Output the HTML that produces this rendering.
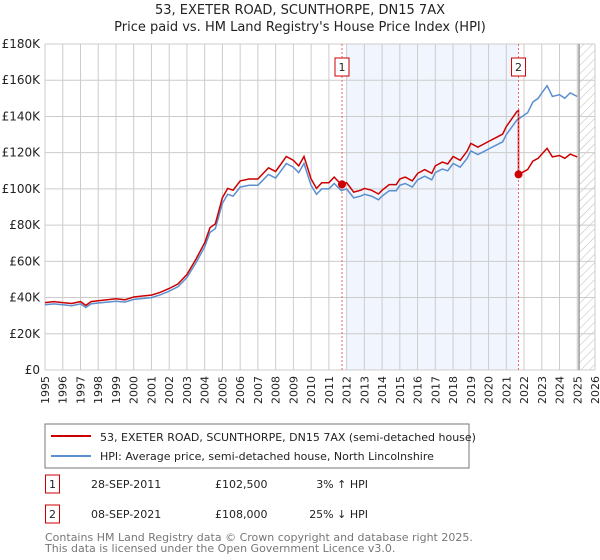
<!DOCTYPE html>
<html><head><meta charset="utf-8"><style>
body{margin:0;background:#fff;font-family:"Liberation Sans","DejaVu Sans",sans-serif;}
#wrap{position:relative;width:600px;height:560px;overflow:hidden;}
</style></head><body>
<div id="wrap">
<svg id="svg" width="600" height="560" xmlns="http://www.w3.org/2000/svg" font-family="DejaVu Sans, Liberation Sans, sans-serif">
<text x="300" y="14" text-anchor="middle" font-size="13" fill="#222">53, EXETER ROAD, SCUNTHORPE, DN15 7AX</text>
<text x="300" y="31" text-anchor="middle" font-size="13" fill="#222">Price paid vs. HM Land Registry's House Price Index (HPI)</text>
<defs><pattern id="hatch" width="6" height="6" patternUnits="userSpaceOnUse" patternTransform="rotate(45)"><line x1="0" y1="0" x2="0" y2="6" stroke="#bbb" stroke-width="1"/></pattern></defs>
<g id="plot"></g>
<rect x="45" y="424" width="424" height="44" fill="#fff" stroke="#777"/>
<line x1="51" y1="436" x2="91" y2="436" stroke="#cc0000" stroke-width="2"/>
<text x="100" y="441" font-size="11" fill="#222">53, EXETER ROAD, SCUNTHORPE, DN15 7AX (semi-detached house)</text>
<line x1="51" y1="456" x2="91" y2="456" stroke="#5b8fd0" stroke-width="2"/>
<text x="100" y="460" font-size="11" fill="#222">HPI: Average price, semi-detached house, North Lincolnshire</text>
<g font-size="11" fill="#222">
<rect x="45.5" y="475" width="14" height="18" fill="#fff" stroke="#cc0000"/>
<text x="52.5" y="488" text-anchor="middle">1</text>
<text x="91" y="488">28-SEP-2011</text>
<text x="215" y="488">£102,500</text>
<text x="368" y="488" text-anchor="end">3% ↑ HPI</text>
<rect x="45.5" y="505" width="14" height="18" fill="#fff" stroke="#cc0000"/>
<text x="52.5" y="518" text-anchor="middle">2</text>
<text x="91" y="518">08-SEP-2021</text>
<text x="215" y="518">£108,000</text>
<text x="368" y="518" text-anchor="end">25% ↓ HPI</text>
</g>
<text x="45" y="541" font-size="11" fill="#777">Contains HM Land Registry data © Crown copyright and database right 2025.</text>
<text x="45" y="552" font-size="11" fill="#777">This data is licensed under the Open Government Licence v3.0.</text>
</svg>
</div>
<script>
const hpiYears=[1995,1995.5,1996,1996.5,1997,1997.3,1997.6,1998,1998.5,1999,1999.5,2000,2000.5,2001,2001.5,2002,2002.5,2003,2003.5,2004,2004.3,2004.6,2005,2005.3,2005.6,2006,2006.5,2007,2007.3,2007.6,2008,2008.3,2008.6,2009,2009.3,2009.6,2010,2010.3,2010.6,2011,2011.3,2011.7,2012,2012.4,2012.8,2013,2013.4,2013.8,2014,2014.4,2014.8,2015,2015.3,2015.7,2016,2016.4,2016.8,2017,2017.4,2017.7,2018,2018.4,2018.8,2019,2019.4,2019.8,2020,2020.4,2020.8,2021,2021.3,2021.6,2021.9,2022.2,2022.5,2022.8,2023,2023.3,2023.6,2024,2024.3,2024.6,2025];
const hpiValues=[36,36.5,36,35.5,36.5,34.5,36.5,37,37.5,38,37.5,39,39.5,40,41.5,43.5,46,51,59,68,76,78,92,97,96,101,102,102,105,108,106,110,114,112,109,114,102,97,100,100,103,99,100,95,96,97,96,94,96,99,99,102,103,101,105,107,105,109,111,110,114,112,117,121,119,121,122,124,126,130,134,138,140,142,148,150,153,157,151,152,150,153,151,158];
const sales=[{year:2011.74,price:102.5},{year:2021.69,price:108}];
const yTicks=[0,20,40,60,80,100,120,140,160,180];
const yTickLabels=["£0","£20K","£40K","£60K","£80K","£100K","£120K","£140K","£160K","£180K"];
const xTicks=[];for(let y=1995;y<=2026;y++)xTicks.push(y);

const X0=45,X1=595,Y0=370,Y1=44;
const xs=v=>X0+(v-1995)/(2026-1995)*(X1-X0);
const ys=v=>Y0-v/180*(Y0-Y1);
const NS="http://www.w3.org/2000/svg";
const g=document.getElementById('plot');
function mk(t,a){const e=document.createElementNS(NS,t);for(const k in a)e.setAttribute(k,a[k]);g.appendChild(e);return e;}
function hpiAt(y){for(let i=0;i<hpiYears.length-1;i++){if(y<=hpiYears[i+1]){const f=(y-hpiYears[i])/(hpiYears[i+1]-hpiYears[i]);return hpiValues[i]+f*(hpiValues[i+1]-hpiValues[i]);}}return hpiValues[hpiValues.length-1];}

let e=mk('rect',{x:xs(2012),y:Y1,width:xs(2021.69)-xs(2012),height:Y0-Y1,fill:'#eef3fc',opacity:0.8});


e=mk('rect',{x:xs(2025.1),y:Y1,width:X1-xs(2025.1),height:Y0-Y1,fill:'url(#hatch)'});


xTicks.forEach(t=>{
  let l=mk('line',{x1:xs(t),x2:xs(t),y1:Y1,y2:Y0,stroke:'#ccc','stroke-width':1});
  
  
  let tx=mk('text',{x:0,y:0,'font-size':11,fill:'#222','text-anchor':'end',transform:`translate(${xs(t)+4},${Y0+6}) rotate(-90)`});
  tx.textContent=t;
  
  
});
yTicks.forEach((t,i)=>{
  let l=mk('line',{x1:X0,x2:X1,y1:ys(t),y2:ys(t),stroke:'#ccc','stroke-width':1});
  
  
  let tx=mk('text',{x:X0-5,y:ys(t)+4,'font-size':12,fill:'#222','text-anchor':'end'});
  tx.textContent=yTickLabels[i];
  
  
});
e=mk('line',{x1:xs(2025.1),x2:xs(2025.1),y1:Y1,y2:Y0,stroke:'#999','stroke-width':1.5});


let d=hpiYears.map((y,i)=>(i?'L':'M')+xs(y).toFixed(1)+','+ys(hpiValues[i]).toFixed(1)).join(' ');
e=mk('path',{d:d,fill:'none',stroke:'#5b8fd0','stroke-width':1.5});


const r1=sales[0].price/hpiAt(sales[0].year), r2=sales[1].price/hpiAt(sales[1].year);
let pts=[];
hpiYears.forEach((y,i)=>{if(y<sales[1].year)pts.push([y,hpiValues[i]*r1]);});
pts.push([sales[1].year,hpiAt(sales[1].year)*r1]);
pts.push([sales[1].year,sales[1].price]);
hpiYears.forEach((y,i)=>{if(y>sales[1].year)pts.push([y,hpiValues[i]*r2]);});
d=pts.map((p,i)=>(i?'L':'M')+xs(p[0]).toFixed(1)+','+ys(p[1]).toFixed(1)).join(' ');
e=mk('path',{d:d,fill:'none',stroke:'#cc0000','stroke-width':1.5});


sales.forEach((s,i)=>{
  let l=mk('line',{x1:xs(s.year),x2:xs(s.year),y1:Y1,y2:Y0,stroke:'#e66','stroke-width':1,'stroke-dasharray':'2,2'});
  
  
  let c=mk('circle',{cx:xs(s.year),cy:ys(s.price),r:4,fill:'#cc0000'});
  
  
  let b=mk('rect',{x:xs(s.year)-7,y:58,width:14,height:18,fill:'#fff',stroke:'#cc0000'});
  
  
  let t=mk('text',{x:xs(s.year),y:71,'font-size':11,'text-anchor':'middle',fill:'#222'});
  t.textContent=String(i+1);
  
  
});
</script>
</body></html>
